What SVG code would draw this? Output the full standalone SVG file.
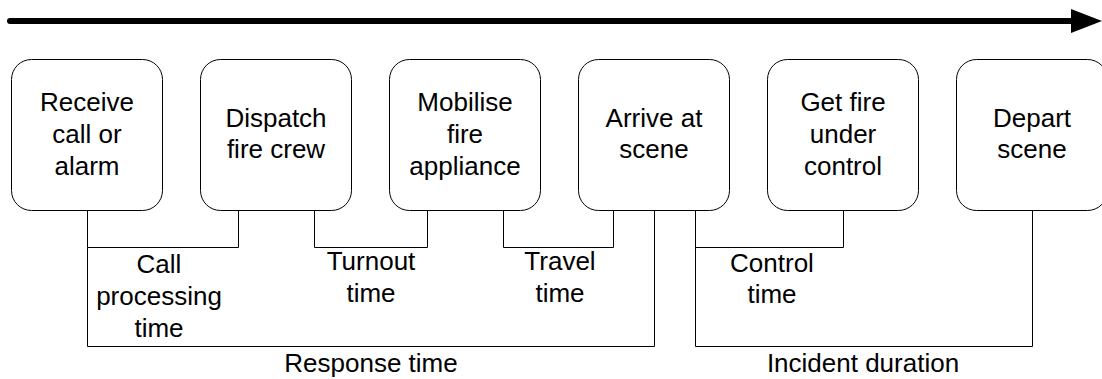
<svg xmlns="http://www.w3.org/2000/svg" width="1102" height="379" viewBox="0 0 1102 379">
<style>
  .box { fill: #ffffff; stroke: #000000; stroke-width: 1; }
  .lbl { font-family: "Liberation Sans", Arial, sans-serif; font-size: 26px; fill: #000000; text-anchor: middle; }
  .conn { fill: none; stroke: #000000; stroke-width: 1; }
  .time { fill: none; stroke: #000000; stroke-width: 6; stroke-linecap: round; }
</style>
<defs>
  <marker id="arrowhead" markerUnits="userSpaceOnUse" markerWidth="32" markerHeight="24" refX="0" refY="12" orient="auto">
    <path d="M0,0 L31,12 L0,24 Z" fill="#000000"/>
  </marker>
</defs>
<rect width="1102" height="379" fill="#ffffff"/>

<g id="timeline">
  <line class="time" x1="10" y1="21" x2="1071" y2="21" marker-end="url(#arrowhead)"/>
</g>

<g id="connectors">
  <!-- Call processing time -->
  <polyline class="conn" points="87.5,210.5 87.5,247.5 238.5,247.5 238.5,210.5"/>
  <!-- Turnout time -->
  <polyline class="conn" points="314.5,210.5 314.5,247.5 427.5,247.5 427.5,210.5"/>
  <!-- Travel time -->
  <polyline class="conn" points="503.5,210.5 503.5,247.5 613.5,247.5 613.5,210.5"/>
  <!-- Response time -->
  <polyline class="conn" points="87.5,247.5 87.5,346.5 654.5,346.5 654.5,210.5"/>
  <!-- Control time -->
  <polyline class="conn" points="695.5,247.5 843.5,247.5 843.5,210.5"/>
  <!-- Incident duration -->
  <polyline class="conn" points="695.5,210.5 695.5,346.5 1032.5,346.5 1032.5,210.5"/>
</g>

<g id="node-receive">
  <rect class="box" x="11.5" y="59.5" width="151" height="151" rx="20" ry="20"/>
  <text class="lbl" x="87" y="111">Receive</text>
  <text class="lbl" x="87" y="143">call or</text>
  <text class="lbl" x="87" y="175">alarm</text>
</g>
<g id="node-dispatch">
  <rect class="box" x="200.5" y="59.5" width="151" height="151" rx="20" ry="20"/>
  <text class="lbl" x="276" y="127">Dispatch</text>
  <text class="lbl" x="276" y="158">fire crew</text>
</g>
<g id="node-mobilise">
  <rect class="box" x="389.5" y="59.5" width="151" height="151" rx="20" ry="20"/>
  <text class="lbl" x="465" y="111">Mobilise</text>
  <text class="lbl" x="465" y="143">fire</text>
  <text class="lbl" x="465" y="175">appliance</text>
</g>
<g id="node-arrive">
  <rect class="box" x="578.5" y="59.5" width="151" height="151" rx="20" ry="20"/>
  <text class="lbl" x="654" y="127">Arrive at</text>
  <text class="lbl" x="654" y="158">scene</text>
</g>
<g id="node-control">
  <rect class="box" x="767.5" y="59.5" width="151" height="151" rx="20" ry="20"/>
  <text class="lbl" x="843" y="111">Get fire</text>
  <text class="lbl" x="843" y="143">under</text>
  <text class="lbl" x="843" y="175">control</text>
</g>
<g id="node-depart">
  <rect class="box" x="956.5" y="59.5" width="151" height="151" rx="20" ry="20"/>
  <text class="lbl" x="1032" y="127">Depart</text>
  <text class="lbl" x="1032" y="158">scene</text>
</g>

<g id="labels">
  <text class="lbl" x="159" y="273">Call</text>
  <text class="lbl" x="159" y="305">processing</text>
  <text class="lbl" x="159" y="337">time</text>
  <text class="lbl" x="371" y="270">Turnout</text>
  <text class="lbl" x="371" y="302">time</text>
  <text class="lbl" x="560" y="270">Travel</text>
  <text class="lbl" x="560" y="302">time</text>
  <text class="lbl" x="772" y="272">Control</text>
  <text class="lbl" x="772" y="303">time</text>
  <text class="lbl" x="371" y="372">Response time</text>
  <text class="lbl" x="863" y="372">Incident duration</text>
</g>
</svg>
